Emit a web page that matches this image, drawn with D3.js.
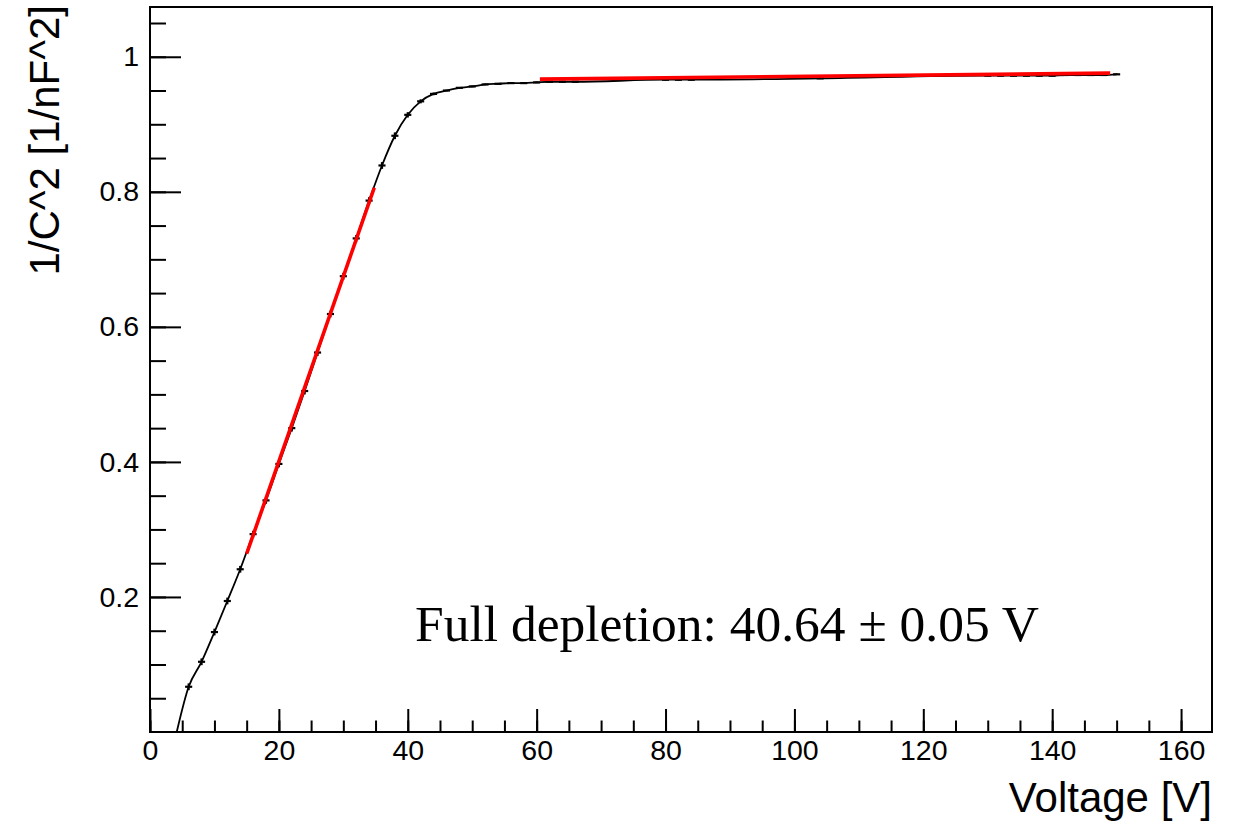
<!DOCTYPE html>
<html>
<head>
<meta charset="utf-8">
<script src="https://cdn.jsdelivr.net/npm/d3@7"></script>
<style>
  body { margin: 0; background: #fff; }
  text { font-family: "Liberation Sans", Arial, sans-serif; }
</style>
</head>
<body>
<div id="viz"></div>
<script>
// measured points: voltage [V] and 1/C^2 [1/nF^2]
const voltage = [4, 6, 8, 10, 12, 14, 16, 18, 20, 22, 24, 26, 28, 30, 32, 34, 36, 38, 40, 42, 44,
                 46, 48, 50, 52, 54, 56, 58, 60, 62, 64, 66, 80, 82, 84, 104,
                 130, 132, 134, 136, 138, 140, 142, 144, 146, 148, 150];
const invC2 = [-0.006, 0.067, 0.104, 0.148, 0.194, 0.241, 0.293, 0.343, 0.397, 0.450, 0.505, 0.562,
               0.619, 0.675, 0.731, 0.787, 0.839, 0.883, 0.914, 0.934, 0.945,
               0.950, 0.954, 0.956, 0.959, 0.960, 0.961, 0.961, 0.962, 0.963, 0.963, 0.963,
               0.966, 0.966, 0.966, 0.968,
               0.972, 0.972, 0.972, 0.972, 0.972, 0.972, 0.973, 0.973, 0.973, 0.973, 0.974];
const invC2Err = [0.005, 0.005, 0.005, 0.005, 0.005, 0.005, 0.005, 0.005, 0.005, 0.005, 0.005, 0.005,
                  0.005, 0.005, 0.005, 0.005, 0.005, 0.005, 0.004, 0.003, 0.002,
                  0.001, 0.001, 0.001, 0.001, 0.001, 0.001, 0.001, 0.001, 0.001, 0.001, 0.001,
                  0.001, 0.001, 0.001, 0.001,
                  0.001, 0.001, 0.001, 0.001, 0.001, 0.001, 0.001, 0.001, 0.001, 0.001, 0.001];
const voltErr = 0.55;

// linear fits (end points of the red lines)
const riseFitV = [15, 34.8];
const riseFitY = [0.264, 0.806];
const flatFitV = [60.5, 149];
const flatFitY = [0.9669, 0.9757];

const label = "Full depletion: 40.64 \u00B1 0.05 V";

// ticks
const xMajor = [0, 20, 40, 60, 80, 100, 120, 140, 160];
const xMinor = d3.range(0, 165, 5);
const yMajor = [0.2, 0.4, 0.6, 0.8, 1];
const yMinor = d3.range(0.05, 1.07, 0.05);

// dimensions of the svg and frame
const width = 1235;
const height = 824;
const frame = {left: 150, right: 1212, top: 7, bottom: 732};

const svg = d3.select("#viz")
    .append("svg")
    .attr("width", width)
    .attr("height", height);

const x = d3.scaleLinear().domain([0, 164.8]).range([frame.left, frame.right]);
const y = d3.scaleLinear().domain([0, 1.0737]).range([frame.bottom, frame.top]);

// clip to frame
svg.append("clipPath").attr("id", "clip")
    .append("rect")
    .attr("x", frame.left).attr("y", frame.top)
    .attr("width", frame.right - frame.left).attr("height", frame.bottom - frame.top);

// x axis: minor then major ticks, pointing inside
svg.append("g")
    .attr("transform", "translate(0," + frame.bottom + ")")
    .call(d3.axisBottom(x).tickValues(xMinor).tickSize(-11.5).tickFormat(""))
    .call(g => g.select(".domain").remove());
svg.append("g")
    .attr("class", "xaxis")
    .attr("transform", "translate(0," + frame.bottom + ")")
    .call(d3.axisBottom(x).tickValues(xMajor).tickSize(-23).tickPadding(8).tickFormat(d3.format("d")))
    .call(g => g.select(".domain").remove());

// y axis
svg.append("g")
    .attr("transform", "translate(" + frame.left + ",0)")
    .call(d3.axisLeft(y).tickValues(yMinor).tickSize(-16).tickFormat(""))
    .call(g => g.select(".domain").remove());
svg.append("g")
    .attr("class", "yaxis")
    .attr("transform", "translate(" + frame.left + ",0)")
    .call(d3.axisLeft(y).tickValues(yMajor).tickSize(-31).tickPadding(11).tickFormat(d => d === 1 ? "1" : d3.format(".1f")(d)))
    .call(g => g.select(".domain").remove());

svg.selectAll(".tick line").attr("stroke", "#000").attr("stroke-width", 2);
svg.selectAll(".xaxis text, .yaxis text")
    .attr("fill", "#000")
    .style("font-family", "'Liberation Sans', Arial, sans-serif")
    .style("font-size", "28.5px");

// frame
svg.append("rect")
    .attr("x", frame.left).attr("y", frame.top)
    .attr("width", frame.right - frame.left).attr("height", frame.bottom - frame.top)
    .attr("fill", "none").attr("stroke", "#000").attr("stroke-width", 2);

// axis titles
svg.append("text")
    .attr("text-anchor", "end")
    .attr("x", frame.right)
    .attr("y", 812)
    .style("font-size", "42px")
    .text("Voltage [V]");

svg.append("text")
    .attr("text-anchor", "end")
    .attr("transform", "translate(59,5) rotate(-90)")
    .style("font-size", "42px")
    .text("1/C^2 [1/nF^2]");

const data = voltage.map((v, i) => ({v: v, c: invC2[i], e: invC2Err[i]}));

const plot = svg.append("g").attr("clip-path", "url(#clip)");

// graph line
plot.append("path")
    .datum(data)
    .attr("d", d3.line().x(d => x(d.v)).y(d => y(d.c)).curve(d3.curveMonotoneX))
    .attr("fill", "none")
    .attr("stroke", "#000")
    .attr("stroke-width", 1.8);

// error bars
const bars = plot.append("g").attr("stroke", "#000").attr("stroke-width", 2.2);
bars.selectAll(".ex").data(data).enter().append("line")
    .attr("x1", d => x(d.v - voltErr)).attr("x2", d => x(d.v + voltErr))
    .attr("y1", d => y(d.c)).attr("y2", d => y(d.c));
bars.selectAll(".ey").data(data).enter().append("line")
    .attr("x1", d => x(d.v)).attr("x2", d => x(d.v))
    .attr("y1", d => y(d.c - d.e)).attr("y2", d => y(d.c + d.e));

// fit lines
[[riseFitV, riseFitY], [flatFitV, flatFitY]].forEach(f => {
    plot.append("path")
        .datum(d3.zip(f[0], f[1]))
        .attr("d", d3.line().x(d => x(d[0])).y(d => y(d[1])))
        .attr("fill", "none")
        .attr("stroke", "#ff0000")
        .attr("stroke-width", 3.6);
});

// result text
svg.append("text")
    .attr("x", 415)
    .attr("y", 641)
    .style("font-family", "'Liberation Serif', 'Times New Roman', serif")
    .style("font-size", "51.5px")
    .text(label);
</script>
</body>
</html>
